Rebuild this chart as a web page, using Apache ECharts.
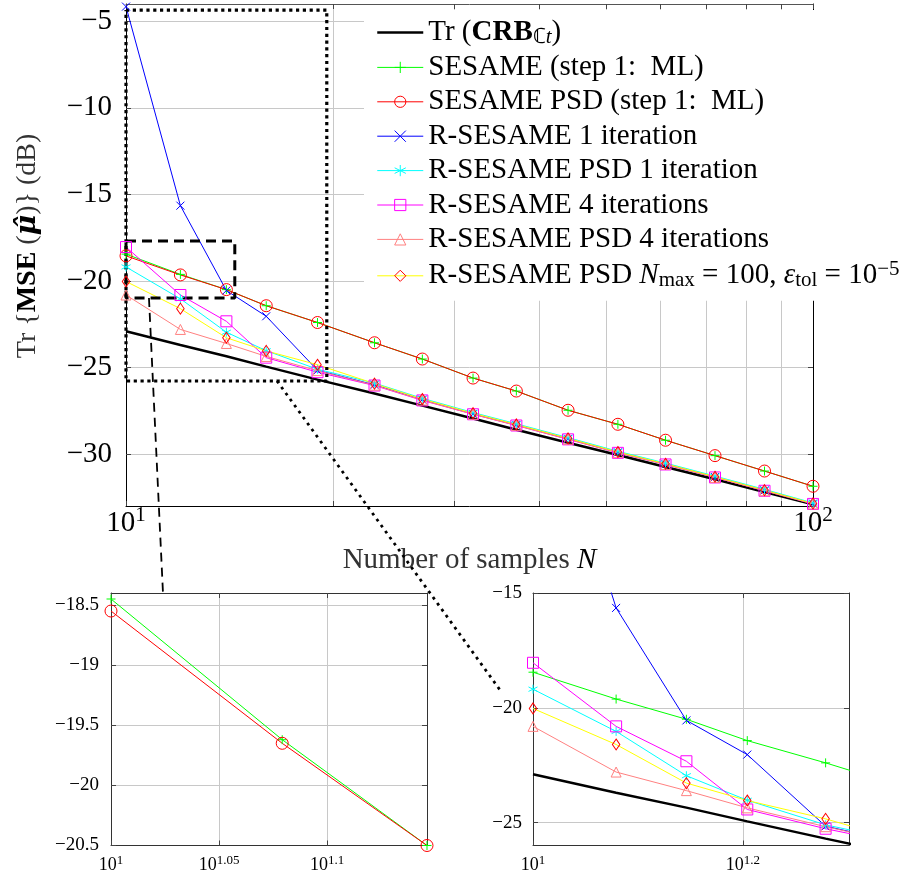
<!DOCTYPE html>
<html><head><meta charset="utf-8">
<script src="https://cdn.jsdelivr.net/npm/echarts@6/dist/echarts.min.js"></script>
<style>html,body{margin:0;padding:0;background:#fff}#c{width:920px;height:876px}</style>
</head><body><div id="c"></div>
<script>
// ---------------- data ----------------
const N = [10, 12, 14, 16, 19, 23, 27, 32, 37, 44, 52, 61, 72, 85, 100];
const crb       = [-22.9, -23.7, -24.35, -24.95, -25.7, -26.5, -27.2, -27.95, -28.6, -29.35, -30.05, -30.75, -31.45, -32.2, -32.9];
const sesame    = [-18.45, -19.62, -20.5, -21.43, -22.4, -23.57, -24.51, -25.61, -26.36, -27.47, -28.28, -29.2, -30.09, -30.98, -31.86];
const sesamePsd = [-18.55, -19.65, -20.5, -21.43, -22.4, -23.57, -24.51, -25.61, -26.36, -27.47, -28.28, -29.2, -30.09, -30.98, -31.86];
const rs1       = [-4.15, -15.65, -20.55, -22.04, -25.16, -26.0, -26.86, -27.68, -28.32, -29.12, -29.9, -30.58, -31.33, -32.1, -32.86];
const rsPsd1    = [-19.19, -21.03, -22.96, -24.03, -25.1, -25.9, -26.78, -27.6, -28.25, -29.05, -29.84, -30.52, -31.27, -32.04, -32.82];
const rs4       = [-18.04, -20.81, -22.33, -24.43, -25.27, -26.04, -26.9, -27.7, -28.35, -29.15, -29.93, -30.6, -31.35, -32.12, -32.88];
const rsPsd4    = [-20.81, -22.8, -23.61, -24.36, -25.18, -26.02, -26.88, -27.7, -28.34, -29.14, -29.92, -30.6, -31.35, -32.12, -32.88];
const rsPsdConv = [-20.03, -21.6, -23.28, -24.04, -24.84, -25.93, -26.82, -27.64, -28.29, -29.09, -29.88, -30.56, -31.31, -32.08, -32.85];

// ticks
const mainYTicks = [-30, -25, -20, -15, -10, -5];
const mainXTickN = [10, 20, 30, 40, 50, 60, 70, 80, 90, 100];
const mainXLabelN = [10, 100];
const inset1YTicks = [-20.5, -20, -19.5, -19, -18.5];
const inset1XExp = [1, 1.05, 1.1];
const inset2YTicks = [-25, -20, -15];
const inset2XExp = [1, 1.2];

// axis ranges
const mainRange = { x: [10, 100], y: [-33, -4] };
const inset1Range = { x: [10, 14], y: [-20.5, -18.4] };
const inset2Range = { x: [10, 20], y: [-26, -15] };

// zoom annotations (data space of main plot)
const zoomBoxA = { x: [10, 14.4], y: [-20.98, -17.69] };
const zoomBoxB = { x: [10, 19.6], y: [-25.78, -4.35] };
const connectorA = [[10.8, -20.98], [11.32, -38.03]];
const connectorB = [[16.59, -25.78], [35.03, -43.63]];

// ---------------- styling ----------------
const FONT = 'Liberation Serif';
const PLUS = 'path://M5,0L5,10M0,5L10,5';
const CROSS = 'path://M0,0L10,10M10,0L0,10';
const STAR = 'path://M5,0L5,10M0.67,2.5L9.33,7.5M0.67,7.5L9.33,2.5';

function richSet(fs, lh, subOff, supOff) {
  const ss = Math.round(fs * 0.72);
  const base = { fontFamily: FONT, color: '#000' };
  return {
    n: Object.assign({}, base, { fontSize: fs, lineHeight: lh }),
    b: Object.assign({}, base, { fontSize: fs, lineHeight: lh, fontWeight: 'bold' }),
    i: Object.assign({}, base, { fontSize: fs, lineHeight: lh, fontStyle: 'italic' }),
    bi: Object.assign({}, base, { fontSize: fs, lineHeight: lh, fontWeight: 'bold', fontStyle: 'italic', fontFamily: 'DejaVu Serif' }),
    sub: Object.assign({}, base, { fontSize: ss, lineHeight: lh - subOff, padding: [subOff, 0, 0, 0] }),
    subi: Object.assign({}, base, { fontSize: ss, lineHeight: lh - subOff, padding: [subOff, 0, 0, 0], fontStyle: 'italic' }),
    sup: Object.assign({}, base, { fontSize: ss, lineHeight: lh - supOff, padding: [0, 0, supOff, 0] })
  };
}
const minus = v => (v < 0 ? '\u2212' : '') + String(Math.abs(v));

const defs = [
  { key: 'CRB', data: crb, line: '#000000', lw: 2.5, sym: 'circle', size: 0, mark: 'rgba(0,0,0,0)' },
  { key: 'SESAME', data: sesame, line: '#00ff00', sym: PLUS, size: 9, mark: '#00ff00' },
  { key: 'SESAME PSD', data: sesamePsd, line: '#ff0000', sym: 'circle', size: 12, mark: '#ff0000' },
  { key: 'R1', data: rs1, line: '#0000ff', sym: CROSS, size: 8, mark: '#0000ff' },
  { key: 'RPSD1', data: rsPsd1, line: '#00ffff', sym: STAR, size: 9, mark: '#00ffff' },
  { key: 'R4', data: rs4, line: '#ff00ff', sym: 'rect', size: 11, mark: '#ff00ff' },
  { key: 'RPSD4', data: rsPsd4, line: '#ff8080', sym: 'triangle', size: 10, mark: '#ff8080' },
  { key: 'RPSDN', data: rsPsdConv, line: '#ffff00', sym: 'diamond', size: [7.5, 11], mark: '#ff0000' }
];
const legendText = {
  'CRB': '{n|Tr (}{b|CRB}{sub|\u2102}{subi|t}{n|)}',
  'SESAME': '{n|SESAME (step 1:  ML)}',
  'SESAME PSD': '{n|SESAME PSD (step 1:  ML)}',
  'R1': '{n|R-SESAME 1 iteration}',
  'RPSD1': '{n|R-SESAME PSD 1 iteration}',
  'R4': '{n|R-SESAME 4 iterations}',
  'RPSD4': '{n|R-SESAME PSD 4 iterations}',
  'RPSDN': '{n|R-SESAME PSD }{i|N}{sub|max}{n| = 100, }{i|\u03b5}{sub|tol}{n| = 10}{sup|\u22125}'
};
const inset1Keys = ['SESAME', 'SESAME PSD'];
const inset2Keys = ['CRB', 'SESAME', 'R1', 'RPSD1', 'R4', 'RPSD4', 'RPSDN'];

function lineSeries(d, gi) {
  return {
    name: d.key, type: 'line', xAxisIndex: gi * 3, yAxisIndex: gi * 2,
    data: N.map((n, i) => [n, d.data[i]]),
    symbol: d.sym, symbolSize: d.size, showSymbol: d.key !== 'CRB',
    lineStyle: { color: d.line, width: d.lw || 1 },
    itemStyle: { color: 'rgba(0,0,0,0)', borderColor: d.mark, borderWidth: 1 },
    emphasis: { disabled: true }, silent: true, animation: false
  };
}
function boxData(b) {
  return [[b.x[0], b.y[1]], [b.x[1], b.y[1]], [b.x[1], b.y[0]], [b.x[0], b.y[0]], [b.x[0], b.y[1]]];
}
function annot(name, data, width, dash) {
  return {
    name: name, type: 'line', xAxisIndex: 0, yAxisIndex: 0, data: data,
    symbol: 'none', showSymbol: false, clip: false, silent: true, animation: false, z: 3,
    lineStyle: { color: '#000', width: width, type: dash, cap: 'butt' }
  };
}

// axis builders
const GRID_COLOR = '#c8c8c8';
function hiddenLog(gi, r) {
  return { type: 'log', logBase: 10, gridIndex: gi, min: r.x[0], max: r.x[1], show: false };
}
function xComp(gi, r, tickVals, labelVals, fmt, fs, margin, frameColor) {
  return {
    type: 'value', gridIndex: gi, position: 'bottom', min: Math.log10(r.x[0]), max: Math.log10(r.x[1]),
    axisLine: { show: true, onZero: false, lineStyle: { color: frameColor, width: 1 } },
    axisTick: { show: true, inside: true, length: 5, customValues: tickVals, lineStyle: { color: '#444' } },
    axisLabel: { show: true, customValues: labelVals, formatter: fmt, margin: margin, color: '#000',
      fontFamily: FONT, fontSize: fs, rich: richSet(fs, Math.round(fs * 1.05), Math.round(fs * 0.3), Math.round(fs * 0.5)) },
    splitLine: { show: true, lineStyle: { color: GRID_COLOR, width: 1 } }
  };
}
function xTop(gi, r, tickVals, frameColor) {
  return {
    type: 'value', gridIndex: gi, position: 'top', min: Math.log10(r.x[0]), max: Math.log10(r.x[1]),
    axisLine: { show: true, onZero: false, lineStyle: { color: frameColor, width: 1 } },
    axisTick: { show: true, inside: true, length: 5, customValues: tickVals, lineStyle: { color: '#444' } },
    axisLabel: { show: false }, splitLine: { show: false }
  };
}
function yLeft(gi, r, ticks, fs, margin, frameColor, extra) {
  return Object.assign({
    type: 'value', gridIndex: gi, position: 'left', min: r.y[0], max: r.y[1],
    axisLine: { show: true, onZero: false, lineStyle: { color: frameColor, width: 1 } },
    axisTick: { show: true, inside: true, length: 5, customValues: ticks, lineStyle: { color: '#444' } },
    axisLabel: { show: true, customValues: ticks, formatter: minus, margin: margin, color: '#000', fontFamily: FONT, fontSize: fs },
    splitLine: { show: true, lineStyle: { color: GRID_COLOR, width: 1 } }
  }, extra || {});
}
function yRight(gi, r, ticks, frameColor) {
  return {
    type: 'value', gridIndex: gi, position: 'right', min: r.y[0], max: r.y[1],
    axisLine: { show: true, onZero: false, lineStyle: { color: frameColor, width: 1 } },
    axisTick: { show: true, inside: true, length: 5, customValues: ticks, lineStyle: { color: '#444' } },
    axisLabel: { show: false }, splitLine: { show: false }
  };
}
const expFmt = v => '{n|10}{sup|' + parseFloat(v.toFixed(2)) + '}';

const mainTickLog = mainXTickN.map(Math.log10);
const mainLabelLog = mainXLabelN.map(Math.log10);

const series = [];
defs.forEach(d => series.push(lineSeries(d, 0)));
defs.filter(d => inset1Keys.indexOf(d.key) >= 0).forEach(d => series.push(lineSeries(d, 1)));
defs.filter(d => inset2Keys.indexOf(d.key) >= 0).forEach(d => series.push(lineSeries(d, 2)));
series.push(annot('_boxA', boxData(zoomBoxA), 3, [10, 6]));
series.push(annot('_boxB', boxData(zoomBoxB), 3.2, [3.2, 3.6]));
series.push(annot('_connA', connectorA, 1.8, [9, 6]));
series.push(annot('_connB', connectorB, 2.8, [2.8, 4.6]));

const option = {
  backgroundColor: '#fff',
  animation: false,
  grid: [
    { left: 126, top: 4, width: 687, height: 502 },
    { left: 111, top: 593, width: 316, height: 253 },
    { left: 533, top: 593, width: 316, height: 253 }
  ],
  xAxis: [
    hiddenLog(0, mainRange),
    Object.assign(xComp(0, mainRange, mainTickLog, mainLabelLog, v => '{n|10}{sup|' + Math.round(v) + '}', 29, 2, '#000'), {
      name: 'Number of samples {i|N}', nameLocation: 'middle', nameGap: 27,
      nameTextStyle: { fontFamily: FONT, fontSize: 29, color: '#333', rich: richSet(29, 30, 9, 12) }
    }),
    xTop(0, mainRange, mainTickLog, '#555'),
    hiddenLog(1, inset1Range),
    xComp(1, inset1Range, inset1XExp, inset1XExp, expFmt, 18, 10, '#333'),
    xTop(1, inset1Range, inset1XExp, '#333'),
    hiddenLog(2, inset2Range),
    xComp(2, inset2Range, inset2XExp, inset2XExp, expFmt, 18, 10, '#333'),
    xTop(2, inset2Range, inset2XExp, '#333')
  ],
  yAxis: [
    yLeft(0, mainRange, mainYTicks, 29, 14, '#000', {
      name: 'Tr {{b|MSE} ({bi|\u03bc\u0302})} (dB)', nameLocation: 'middle', nameRotate: 90, nameGap: 83,
      nameTextStyle: { fontFamily: FONT, fontSize: 28, color: '#333', padding: [0, 0, 0, 18], rich: richSet(28, 30, 9, 12) }
    }),
    yRight(0, mainRange, mainYTicks, '#000'),
    yLeft(1, inset1Range, inset1YTicks, 19, 12, '#333'),
    yRight(1, inset1Range, inset1YTicks, '#333'),
    yLeft(2, inset2Range, inset2YTicks, 19, 11, '#333'),
    yRight(2, inset2Range, inset2YTicks, '#333')
  ],
  legend: {
    data: defs.map(d => d.key),
    orient: 'vertical', left: 364, top: 10, padding: [7, 6, 8, 12],
    backgroundColor: '#fff', borderWidth: 0, selectedMode: false,
    itemWidth: 46, itemHeight: 14, itemGap: 4.4, align: 'left',
    formatter: name => legendText[name],
    lineStyle: { width: 'inherit' },
    itemStyle: { borderWidth: 'inherit' },
    textStyle: { fontFamily: FONT, fontSize: 29, lineHeight: 30, color: '#000', rich: richSet(29, 30, 10, 13) }
  },
  series: series
};

const chart = echarts.init(document.getElementById('c'), null, { renderer: 'canvas' });
chart.setOption(option);
</script>
</body></html>
